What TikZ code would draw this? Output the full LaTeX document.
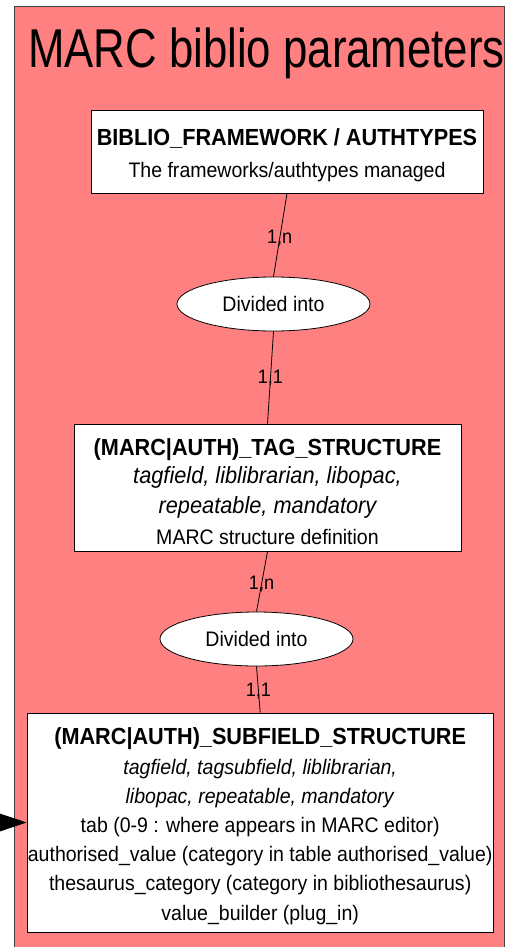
\documentclass[tikz,border=0pt]{standalone}
\usepackage{fontspec}
\setmainfont{Liberation Sans}[FakeStretch=0.93]
\newfontfamily\titlefont{Liberation Sans}[FakeStretch=0.8]
\usetikzlibrary{shapes.geometric,arrows.meta}
\definecolor{clusterfill}{HTML}{FF8080}
\newcommand{\entitytitle}[2]{\rule{0pt}{#1}{\fontsize{23.3}{30}\selectfont\bfseries #2}}
\newcommand{\bigital}[1]{{\fontsize{23.4}{30}\selectfont\itshape #1}}
\newcommand{\lastdepth}{\rule[-6pt]{0pt}{6pt}}
\tikzset{
  entity/.style={draw=black, fill=white, line width=0.8pt, align=center, inner sep=0pt},
  relation/.style={ellipse, draw=black, fill=white, line width=0.8pt, inner sep=0pt,
    minimum width=193pt, minimum height=54pt, font=\fontsize{21}{25}\selectfont},
  card/.style={font=\fontsize{19.5}{24}\selectfont, inner sep=0pt},
  link/.style={draw=black, line width=0.8pt},
}
\begin{document}
\begin{tikzpicture}[x=1pt, y=-1pt]
\useasboundingbox (0,0) rectangle (517,947);
\clip (0,0) rectangle (517,947);
\path[fill=clusterfill, draw=black!75, line width=1pt] (14.7,6.7) rectangle (504.3,965);
\node[font=\titlefont\fontsize{54.7}{60}\selectfont, anchor=base, inner sep=0pt] (title) at (266.5,68) {MARC biblio parameters};

\node[entity, font=\fontsize{21}{31.6}\selectfont, minimum width=392pt, minimum height=83pt] (fw) at (287,151.5)
  {\entitytitle{26pt}{BIBLIO\_FRAMEWORK / AUTHTYPES}\\The frameworks/authtypes managed\lastdepth};
\node[relation] (d1) at (273.5,304) {Divided into};
\node[entity, font=\fontsize{21}{28.3}\selectfont, minimum width=387pt, minimum height=127pt] (tag) at (267.5,487.5)
  {\entitytitle{30pt}{(MARC|AUTH)\_TAG\_STRUCTURE}\\\bigital{tagfield, liblibrarian, libopac,}\\[1.7pt]\bigital{repeatable, mandatory}\\[2.4pt]MARC structure definition\lastdepth};
\node[relation] (d2) at (256.5,639) {Divided into};
\node[entity, font=\fontsize{21}{29.2}\selectfont, minimum width=466.6pt, minimum height=219pt] (sub) at (260.2,822.5)
  {\entitytitle{26pt}{(MARC|AUTH)\_SUBFIELD\_STRUCTURE}\\\textit{tagfield, tagsubfield, liblibrarian,}\\\textit{libopac, repeatable, mandatory}\\tab (0-9 : where appears in MARC editor)\\authorised\_value (category in table authorised\_value)\\thesaurus\_category (category in bibliothesaurus)\\value\_builder (plug\_in)\lastdepth};

\draw[link] (fw.south) -- node[card, pos=0.54] (c1) {1,n} (d1.north);
\draw[link] (d1.south) -- node[card, pos=0.505] (c2) {1,1} (tag.north);
\draw[link] (tag.south) -- node[card, pos=0.54] (c3) {1,n} (d2.north);
\draw[link] (d2.south) -- node[card, pos=0.53] (c4) {1,1} (sub.north);

\coordinate (src) at (-20,822.5);
\draw[link, -{Triangle[length=30pt,width=20pt]}] (src) -- (sub.west);
\end{tikzpicture}
\end{document}
